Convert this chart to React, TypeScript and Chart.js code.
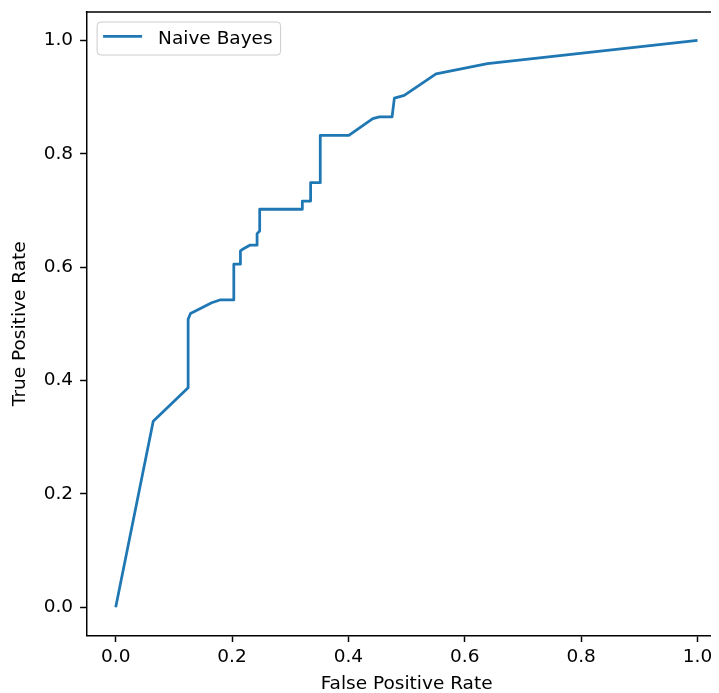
import { useEffect, useRef } from 'react';
import { Chart, registerables } from 'chart.js';

Chart.register(...registerables);

const seriesLabel = 'Naive Bayes';
const fpr = [0, 0.0645, 0.1245, 0.1245, 0.1286, 0.165, 0.179, 0.203, 0.203, 0.2144, 0.2144, 0.219, 0.2304, 0.243, 0.243, 0.2475, 0.2475, 0.3208, 0.3208, 0.335, 0.335, 0.3516, 0.3516, 0.4007, 0.4419, 0.4533, 0.475, 0.479, 0.496, 0.5506, 0.639, 1.0];
const tpr = [0, 0.328, 0.387, 0.508, 0.518, 0.537, 0.542, 0.542, 0.605, 0.605, 0.6285, 0.632, 0.6386, 0.6386, 0.659, 0.6637, 0.702, 0.702, 0.7165, 0.7165, 0.7488, 0.7488, 0.8322, 0.8322, 0.862, 0.865, 0.865, 0.898, 0.903, 0.9407, 0.959, 1.0];
const xTicks = [0, 0.2, 0.4, 0.6, 0.8, 1.0];
const yTicks = [0, 0.2, 0.4, 0.6, 0.8, 1.0];
const xTitle = 'False Positive Rate';
const yTitle = 'True Positive Rate';

const FONT = "'DejaVu Sans', sans-serif";
const FS = 18.5;
const LINE_COLOR = '#1f77b4';
const SPINE = 1.48;
const CANVAS_W = 740;
const CANVAS_H = 685;

export default function App() {
  const ref = useRef<HTMLCanvasElement>(null);

  useEffect(() => {
    document.documentElement.style.overflow = 'hidden';
    document.body.style.overflow = 'hidden';
    const canvas = ref.current;
    if (!canvas) return;

    const framePlugin = {
      id: 'frameTop',
      afterDraw(chart: any) {
        const { ctx, chartArea } = chart;
        const { left, right, top, bottom } = chartArea;
        ctx.save();
        ctx.strokeStyle = '#000';
        ctx.lineWidth = SPINE;
        ctx.beginPath();
        ctx.moveTo(left - SPINE / 2, top);
        ctx.lineTo(right, top);
        ctx.lineTo(right, bottom);
        ctx.stroke();
        ctx.restore();
      },
    };

    const legendPlugin = {
      id: 'mplLegend',
      afterDraw(chart: any) {
        const { ctx, chartArea } = chart;
        const ds = chart.data.datasets[0];
        ctx.save();
        ctx.font = `${FS}px ${FONT}`;
        const tw = ctx.measureText(ds.label).width;
        const bx = chartArea.left + 10.5;
        const by = chartArea.top + 10;
        const bh = 33;
        const textX = bx + 61;
        const bw = textX + tw + 8 - bx;
        const r = 3.7;
        ctx.beginPath();
        ctx.moveTo(bx + r, by);
        ctx.lineTo(bx + bw - r, by);
        ctx.quadraticCurveTo(bx + bw, by, bx + bw, by + r);
        ctx.lineTo(bx + bw, by + bh - r);
        ctx.quadraticCurveTo(bx + bw, by + bh, bx + bw - r, by + bh);
        ctx.lineTo(bx + r, by + bh);
        ctx.quadraticCurveTo(bx, by + bh, bx, by + bh - r);
        ctx.lineTo(bx, by + r);
        ctx.quadraticCurveTo(bx, by, bx + r, by);
        ctx.closePath();
        ctx.fillStyle = 'rgba(255,255,255,0.8)';
        ctx.fill();
        ctx.strokeStyle = '#cccccc';
        ctx.lineWidth = 1;
        ctx.stroke();
        ctx.strokeStyle = ds.borderColor;
        ctx.lineWidth = 2.77;
        ctx.lineCap = 'butt';
        ctx.beginPath();
        ctx.moveTo(bx + 6, by + 14.3);
        ctx.lineTo(bx + 45, by + 14.3);
        ctx.stroke();
        ctx.fillStyle = '#000';
        ctx.textAlign = 'left';
        ctx.textBaseline = 'alphabetic';
        ctx.fillText(ds.label, textX, by + 21.6);
        ctx.restore();
      },
    };

    const chart = new Chart(canvas, {
      type: 'line',
      data: {
        datasets: [
          {
            label: seriesLabel,
            data: fpr.map((x, i) => ({ x, y: tpr[i] })),
            borderColor: LINE_COLOR,
            backgroundColor: LINE_COLOR,
            borderWidth: 2.77,
            borderJoinStyle: 'round',
            borderCapStyle: 'butt',
            pointRadius: 0,
            pointHoverRadius: 0,
            tension: 0,
            fill: false,
          },
        ],
      },
      options: {
        responsive: false,
        animation: false,
        devicePixelRatio: 1,
        layout: { padding: { left: 0, top: 4, right: CANVAS_W - 718.6, bottom: 0 } },
        plugins: {
          legend: { display: false },
          tooltip: { enabled: false },
        },
        scales: {
          x: {
            type: 'linear',
            min: -0.05,
            max: 1.05,
            afterBuildTicks: (s: any) => {
              s.ticks = xTicks.map((v) => ({ value: v }));
            },
            afterFit: (s: any) => {
              s.height = CANVAS_H - 627.5;
              s.paddingLeft = 0;
              s.paddingRight = 0;
              s.paddingTop = 0;
              s.paddingBottom = 0;
            },
            ticks: {
              autoSkip: false,
              maxRotation: 0,
              padding: 4,
              color: '#000',
              font: { family: FONT, size: FS, lineHeight: 1.2 },
              callback: (v: any) => Number(v).toFixed(1),
            },
            grid: {
              display: true,
              drawOnChartArea: false,
              drawTicks: true,
              tickLength: 6.5,
              tickColor: '#000',
              tickWidth: SPINE,
            },
            border: { display: true, color: '#000', width: SPINE },
            title: {
              display: true,
              text: xTitle,
              color: '#000',
              font: { family: FONT, size: FS, lineHeight: 1 },
              padding: { top: 0, bottom: 0 },
            },
          },
          y: {
            type: 'linear',
            min: -0.05,
            max: 1.05,
            afterBuildTicks: (s: any) => {
              s.ticks = yTicks.map((v) => ({ value: v }));
            },
            afterFit: (s: any) => {
              s.width = 78.6;
              s.paddingLeft = 0;
              s.paddingRight = 0;
              s.paddingTop = 0;
              s.paddingBottom = 0;
            },
            ticks: {
              autoSkip: false,
              padding: 7,
              color: '#000',
              font: { family: FONT, size: FS, lineHeight: 1.2 },
              callback: (v: any) => Number(v).toFixed(1),
            },
            grid: {
              display: true,
              drawOnChartArea: false,
              drawTicks: true,
              tickLength: 6.5,
              tickColor: '#000',
              tickWidth: SPINE,
            },
            border: { display: true, color: '#000', width: SPINE },
            title: {
              display: true,
              text: yTitle,
              color: '#000',
              font: { family: FONT, size: FS, lineHeight: 1 },
              padding: { top: 3.25, bottom: 0 },
            },
          },
        },
      },
      plugins: [framePlugin, legendPlugin],
    } as any);

    return () => {
      chart.destroy();
    };
  }, []);

  return (
    <div style={{ width: CANVAS_W, height: CANVAS_H, overflow: 'hidden' }}>
      <canvas
        ref={ref}
        width={CANVAS_W}
        height={CANVAS_H}
        style={{ display: 'block', width: CANVAS_W, height: CANVAS_H }}
      />
    </div>
  );
}
